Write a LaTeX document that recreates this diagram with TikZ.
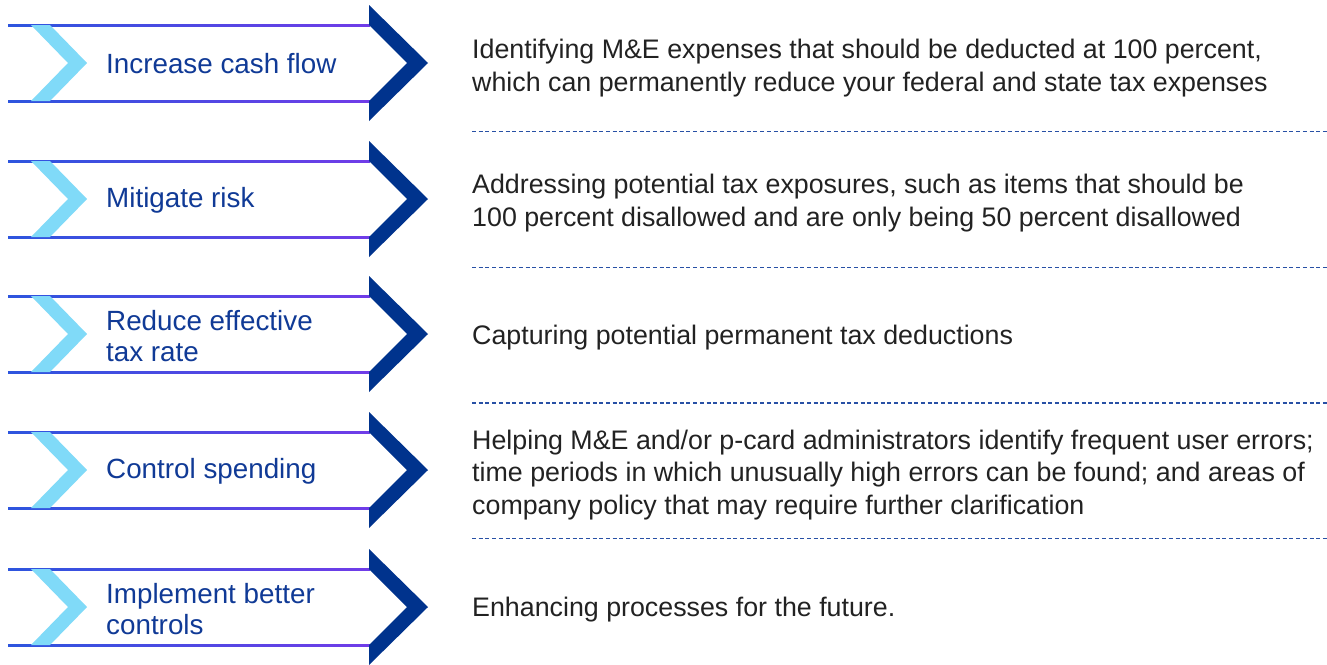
\documentclass[tikz,border=0pt]{standalone}
\usepackage{fontspec}
\setmainfont{Liberation Sans}
\newfontfamily\bodyfont{Liberation Sans}
\definecolor{kdark}{RGB}{0,51,141}
\definecolor{klight}{RGB}{128,218,248}
\definecolor{kline}{RGB}{45,85,222}
\definecolor{kpurple}{RGB}{112,60,232}
\definecolor{klabel}{RGB}{16,58,150}
\definecolor{kbody}{RGB}{34,34,34}
\definecolor{kdash}{RGB}{40,80,165}
\tikzset{
  label/.style={anchor=west, inner sep=0pt, align=left, text=klabel,
    font=\fontsize{27.8}{31.5}\selectfont},
  body/.style={anchor=west, inner sep=0pt, align=left, text=kbody,
    font=\bodyfont\fontsize{26.8}{32.8}\selectfont},
  sep/.style={draw=kdash, line width=1.4pt, dash pattern=on 4pt off 2.7pt},
}
% one banner arrow centred on height #1
\newcommand{\banner}[1]{%
  \shade[left color=kline, right color=kpurple] (8,#1-39) rectangle (370,#1-37);
  \shade[left color=kline, right color=kpurple] (8,#1+37) rectangle (370,#1+39);
  \fill[klight] (31,#1-38) -- (50,#1-38) -- (87,#1) -- (50,#1+38) -- (31,#1+38) -- (68,#1) -- cycle;
  \fill[kdark] (369,#1-58) -- (428,#1) -- (369,#1+58) -- (369,#1+38) -- (407,#1) -- (369,#1-38) -- cycle;
}
\begin{document}
\begin{tikzpicture}[x=1pt,y=-1pt]
\useasboundingbox[fill=white] (0,0) rectangle (1327,664);

\banner{63}
\banner{199}
\banner{334}
\banner{470}
\banner{607}

\node[label] (l1) at (106,64) {Increase cash flow};
\node[label] (l2) at (106,200) {Mitigate risk};
\node[label] (l3) at (106,336) {Reduce effective\\tax rate};
\node[label] (l4) at (106,471) {Control spending};
\node[label] (l5) at (106,609) {Implement better\\controls};

\node[body] (b1) at (472,68) {Identifying M\&E expenses that should be deducted at 100 percent,\\which can permanently reduce your federal and state tax expenses};
\node[body] (b2) at (472,203) {Addressing potential tax exposures, such as items that should be\\100 percent disallowed and are only being 50 percent disallowed};
\node[body] (b3) at (472,338) {Capturing potential permanent tax deductions};
\node[body] (b4) at (472,475) {Helping M\&E and/or p-card administrators identify frequent user errors;\\time periods in which unusually high errors can be found; and areas of\\company policy that may require further clarification};
\node[body] (b5) at (472,610) {Enhancing processes for the future.};

\coordinate (s1a) at (472,131.5); \coordinate (s1b) at (1327,131.5);
\coordinate (s2a) at (472,267.5); \coordinate (s2b) at (1327,267.5);
\coordinate (s3a) at (472,403);   \coordinate (s3b) at (1327,403);
\coordinate (s4a) at (472,538.5); \coordinate (s4b) at (1327,538.5);
\draw[sep] (s1a) -- (s1b);
\draw[sep] (s2a) -- (s2b);
\draw[sep] (s3a) -- (s3b);
\draw[sep] (s4a) -- (s4b);
\end{tikzpicture}
\end{document}
